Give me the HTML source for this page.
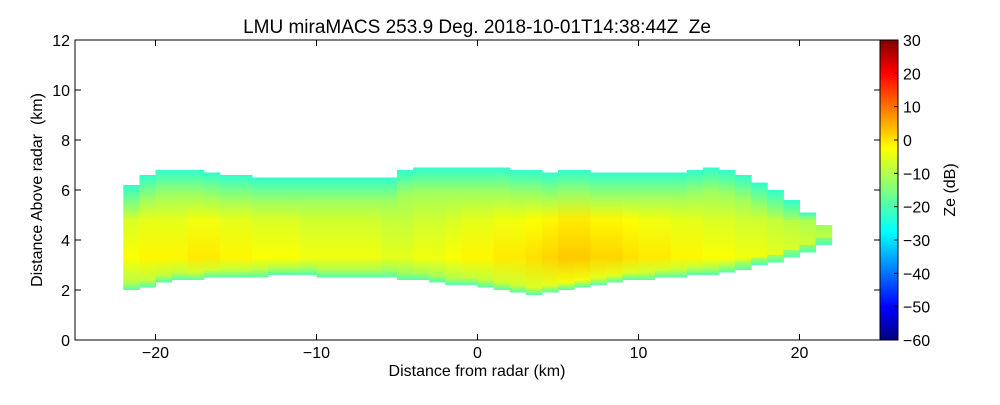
<!DOCTYPE html>
<html><head><meta charset="utf-8">
<style>
body{margin:0;background:#fff;width:1000px;height:400px;overflow:hidden}
svg text{font-family:"Liberation Sans",sans-serif;fill:#000}
</style></head>
<body>
<svg id="chart" width="1000" height="400" xmlns="http://www.w3.org/2000/svg">
<defs>
<linearGradient id="jet" x1="0" y1="1" x2="0" y2="0">
<stop offset="0" stop-color="#00007f"/><stop offset="0.11" stop-color="#0000ff"/>
<stop offset="0.36" stop-color="#00ffff"/><stop offset="0.5" stop-color="#7fff7f"/>
<stop offset="0.64" stop-color="#ffff00"/><stop offset="0.89" stop-color="#ff0000"/>
<stop offset="1" stop-color="#7f0000"/>
</linearGradient>
</defs>
<g id="echo"></g>
<rect x="75" y="40" width="805" height="300" fill="none" stroke="#000" stroke-width="1"/>
<rect x="880" y="40" width="18" height="300" fill="url(#jet)" stroke="#000"/>
<g id="axes"></g>
<text x="477" y="33" font-size="19" text-anchor="middle" xml:space="preserve">LMU miraMACS 253.9 Deg. 2018-10-01T14:38:44Z  Ze</text>
<text x="477" y="376" font-size="16" text-anchor="middle">Distance from radar (km)</text>
<text transform="translate(42,190) rotate(-90)" font-size="16" text-anchor="middle" xml:space="preserve">Distance Above radar  (km)</text>
<text transform="translate(955,190) rotate(-90)" font-size="16" text-anchor="middle">Ze (dB)</text>
</svg>
<script>
const distances=[-22,-21,-20,-19,-18,-17,-16,-15,-14,-13,-12,-11,-10,-9,-8,-7,-6,-5,-4,-3,-2,-1,0,1,2,3,4,5,6,7,8,9,10,11,12,13,14,15,16,17,18,19,20,21];
const cloudBase=[2.0,2.1,2.3,2.4,2.4,2.5,2.5,2.5,2.5,2.6,2.6,2.6,2.5,2.5,2.5,2.5,2.5,2.4,2.4,2.3,2.2,2.2,2.1,2.0,1.9,1.8,1.9,2.0,2.1,2.2,2.3,2.4,2.4,2.5,2.5,2.6,2.6,2.7,2.8,3.0,3.1,3.3,3.5,3.8];
const cloudTop=[6.2,6.6,6.8,6.8,6.8,6.7,6.6,6.6,6.5,6.5,6.5,6.5,6.5,6.5,6.5,6.5,6.5,6.8,6.9,6.9,6.9,6.9,6.9,6.9,6.8,6.8,6.7,6.8,6.8,6.7,6.7,6.7,6.7,6.7,6.7,6.8,6.9,6.8,6.6,6.3,6.0,5.6,5.1,4.6];
const coreZe=[-4,-3,-3,-3,-2,-2,-3,-3,-4,-4,-4,-5,-5,-5,-5,-5,-6,-6,-5,-5,-4,-3,-3,-2,-2,-1,0,1,1,0,0,-1,-2,-2,-3,-3,-4,-4,-5,-5,-6,-7,-8,-9];
const xTicks=[-20,-10,0,10,20];
const yTicks=[0,2,4,6,8,10,12];
const cbTicks=[30,20,10,0,-10,-20,-30,-40,-50,-60];
const X=d=>477.5+d*16.1, Y=h=>340-h*25, CB=z=>340-(z+60)/90*300;
function jet(z){let t=Math.max(0,Math.min(1,(z+60)/90));
 const f=(a)=>Math.max(0,Math.min(1,1.5-Math.abs(4*t-a)));
 return `rgb(${Math.round(255*f(3))},${Math.round(255*f(2))},${Math.round(255*f(1))})`;}
const NS="http://www.w3.org/2000/svg";
const defs=document.querySelector('defs'),echo=document.getElementById('echo'),axes=document.getElementById('axes');
distances.forEach((d,i)=>{
 const b=cloudBase[i],t=cloudTop[i],c=coreZe[i];
 const g=document.createElementNS(NS,'linearGradient');g.id='g'+i;
 g.setAttribute('x1','0');g.setAttribute('y1','1');g.setAttribute('x2','0');g.setAttribute('y2','0');
 const H=t-b,core=3.3;
 [[0,-19],[0.3/H,c-6],[(core-b)/H,c],[(4.8-b)/H,c-3],[(t-1-b)/H,-12],[1,-22]].forEach(([o,z])=>{
  const s=document.createElementNS(NS,'stop');s.setAttribute('offset',Math.max(0,Math.min(1,o)));s.setAttribute('stop-color',jet(z));g.appendChild(s);});
 defs.appendChild(g);
 const r=document.createElementNS(NS,'rect');
 
 
 r.setAttribute('x',X(d));r.setAttribute('width',16.6);r.setAttribute('y',Y(t));r.setAttribute('height',Y(b)-Y(t));
 r.setAttribute('fill','url(#g'+i+')');echo.appendChild(r);
});
function tick(x1,y1,x2,y2){const l=document.createElementNS(NS,'line');l.setAttribute('x1',x1);l.setAttribute('y1',y1);l.setAttribute('x2',x2);l.setAttribute('y2',y2);l.setAttribute('stroke','#000');axes.appendChild(l);return l;}
function label(x,y,s,a){const t=document.createElementNS(NS,'text');t.setAttribute('x',x);t.setAttribute('y',y);t.setAttribute('font-size','16');t.setAttribute('text-anchor',a);t.textContent=s;axes.appendChild(t);return t;}
xTicks.forEach(v=>{tick(X(v),340,X(v),334);tick(X(v),40,X(v),46);
 const t=label(X(v),358,v<0?'\u2212'+(-v):v,'middle');
 
 });
yTicks.forEach(v=>{tick(75,Y(v),81,Y(v));tick(880,Y(v),874,Y(v));
 const t=label(70,Y(v)+6,v,'end');
 
 });
cbTicks.forEach(v=>{tick(898,CB(v),894,CB(v));
 const t=label(903,CB(v)+6,v<0?'\u2212'+(-v):v,'start');
 
 });
</script>
</body></html>
